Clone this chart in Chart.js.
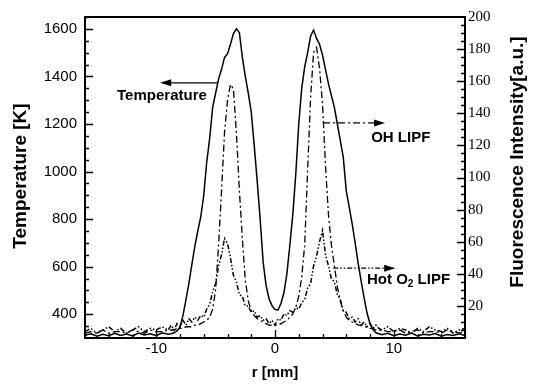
<!DOCTYPE html>
<html>
<head>
<meta charset="utf-8">
<script src="https://cdn.jsdelivr.net/npm/chart.js@4.4.1/dist/chart.umd.min.js"></script>
<style>
    body { margin: 0; background: #fff; }
    canvas { display: block; }
</style>
</head>
<body>
<canvas id="grafica" width="539" height="386"></canvas>
<script>
// radial position r [mm]
const radio = [
    -16, -15.5, -15, -14.5, -14, -13.5, -13, -12.5, -12, -11.5, -11, -10.5, -10, -9.5, -9,
    -8.75, -8.5, -8.25, -8, -7.75, -7.5, -7.25, -7, -6.75, -6.5, -6.25, -6, -5.75, -5.5, -5.25,
    -5, -4.75, -4.5, -4.25, -4, -3.75, -3.5, -3.25, -3, -2.75, -2.5, -2.25, -2, -1.75, -1.5,
    -1.25, -1, -0.75, -0.5, -0.25,
    0,
    0.25, 0.5, 0.75, 1, 1.25, 1.5, 1.75, 2, 2.25, 2.5, 2.75, 3, 3.25, 3.5, 3.75, 4, 4.25, 4.5,
    4.75, 5, 5.25, 5.5, 5.75, 6, 6.25, 6.5, 6.75, 7, 7.25, 7.5, 7.75, 8, 8.25, 8.5, 8.75,
    9, 9.5, 10, 10.5, 11, 11.5, 12, 12.5, 13, 13.5, 14, 14.5, 15, 15.5, 16
];

// temperature [K]
const temperatura = [
    312, 318, 308, 316, 310, 320, 311, 317, 309, 321, 313, 318, 310, 322, 316,
    318, 322, 330, 345, 395, 460, 530, 610, 685, 750, 810, 900, 1040, 1140, 1270,
    1330, 1390, 1430, 1480, 1495, 1535, 1580, 1600, 1585, 1480, 1400, 1330, 1250, 1110, 960,
    800, 620, 520, 465, 435,
    420,
    418, 445, 490, 570, 690, 820, 990, 1200, 1350, 1440, 1500, 1570, 1595, 1560, 1535, 1490, 1430, 1370,
    1320, 1270, 1200, 1130, 1060, 920, 850, 780, 700, 615, 540, 470, 405, 360, 335, 322, 318,
    314, 320, 310, 317, 312, 321, 309, 316, 313, 319, 308, 315, 311, 318, 310
];

// OH LIPF [a.u.]
const ohLipf = [
    3, 4, 3, 5, 3, 4, 4, 3, 5, 4, 3, 5, 4, 4, 5,
    5, 5, 6, 6, 6, 7, 7, 7, 8, 8, 9, 10, 11, 13, 18,
    30, 58, 92, 128, 148, 158, 155, 128, 92, 62, 36, 23, 17, 14, 12,
    11, 10, 9, 8, 8,
    8,
    8, 9, 10, 11, 13, 15, 19, 26, 38, 58, 105, 150, 178, 181, 168, 146, 108, 77,
    58, 45, 32, 23, 17, 13, 11, 10, 9, 8, 8, 7, 7, 6, 6, 5, 5,
    5, 4, 4, 5, 3, 4, 5, 3, 4, 4, 3, 5, 4, 3, 4
];

// hot O2 LIPF [a.u.]
const o2Lipf = [
    4, 6, 3, 5, 7, 4, 6, 3, 5, 7, 4, 6, 5, 7, 5,
    8, 5, 9, 7, 11, 8, 12, 10, 13, 11, 14, 13, 18, 21, 29,
    34, 45, 52, 62, 59, 50, 39, 35, 27, 26, 20, 20, 16, 17, 13,
    14, 11, 12, 9, 11,
    8,
    12, 11, 15, 14, 17, 16, 19, 18, 22, 24, 31, 34, 45, 51, 60, 67, 52, 45,
    37, 35, 27, 24, 17, 16, 12, 13, 10, 12, 8, 10, 7, 9, 6, 8, 6,
    5, 7, 4, 6, 5, 3, 6, 4, 7, 5, 4, 6, 3, 5, 6
];

const ticksRadio = [-10, 0, 10];
const ticksTemp = [400, 600, 800, 1000, 1200, 1400, 1600];
const ticksFluor = [20, 40, 60, 80, 100, 120, 140, 160, 180, 200];

const SANS = "'Liberation Sans', Arial, sans-serif";
const SERIF = "'Liberation Serif', 'Times New Roman', serif";

function puntos(valores) {
    return radio.map((r, i) => ({ x: r, y: valores[i] }));
}

function fijarTicks(lista) {
    return function (scale) {
        scale.ticks = lista.map(v => ({ value: v }));
    };
}

function flecha(ctx, x1, y, x2, dash) {
    ctx.setLineDash(dash);
    ctx.beginPath();
    ctx.moveTo(x1, y);
    ctx.lineTo(x2, y);
    ctx.stroke();
    ctx.setLineDash([]);
    const dir = Math.sign(x2 - x1);
    ctx.beginPath();
    ctx.moveTo(x2 + dir * 2, y);
    ctx.lineTo(x2 - dir * 9, y - 3.5);
    ctx.lineTo(x2 - dir * 9, y + 3.5);
    ctx.closePath();
    ctx.fill();
}

function tituloVertical(ctx, texto, x, y) {
    ctx.save();
    ctx.translate(x, y);
    ctx.rotate(-Math.PI / 2);
    ctx.font = 'bold 19px ' + SANS;
    ctx.textAlign = 'center';
    ctx.textBaseline = 'middle';
    ctx.fillText(texto, 0, 0);
    ctx.restore();
}

// frame, inward ticks, arrows and labels
const marco = {
    id: 'marco',
    afterDraw(chart) {
        const ctx = chart.ctx;
        const a = chart.chartArea;
        const sx = chart.scales.x, sy = chart.scales.y, sf = chart.scales.y2;

        ctx.save();
        ctx.strokeStyle = '#000';
        ctx.fillStyle = '#000';

        ctx.lineWidth = 2;
        ctx.strokeRect(a.left, a.top, a.right - a.left, a.bottom - a.top);

        ctx.lineWidth = 1.3;
        ctx.beginPath();
        for (let v = -16; v <= 16; v += 2) {
            const x = Math.round(sx.getPixelForValue(v)) + 0.5;
            const largo = v % 10 === 0 ? 8 : 4;
            ctx.moveTo(x, a.bottom);
            ctx.lineTo(x, a.bottom - largo);
        }
        for (let v = 350; v <= 1650; v += 50) {
            const y = Math.round(sy.getPixelForValue(v)) + 0.5;
            const largo = v % 200 === 0 ? 8 : 4;
            ctx.moveTo(a.left, y);
            ctx.lineTo(a.left + largo, y);
        }
        for (let v = 5; v < 200; v += 5) {
            const y = Math.round(sf.getPixelForValue(v)) + 0.5;
            const largo = v % 20 === 0 ? 8 : 4;
            ctx.moveTo(a.right, y);
            ctx.lineTo(a.right - largo, y);
        }
        ctx.stroke();

        // arrows
        ctx.lineWidth = 1.3;
        const yT = sy.getPixelForValue(1373);
        flecha(ctx, sx.getPixelForValue(-4.8), yT, sx.getPixelForValue(-9.5), []);
        const yOH = sf.getPixelForValue(134);
        flecha(ctx, sx.getPixelForValue(4.05), yOH, sx.getPixelForValue(9.1), [7, 3, 2, 3]);
        const yO2 = sf.getPixelForValue(43.5);
        flecha(ctx, sx.getPixelForValue(4.9), yO2, sx.getPixelForValue(9.95), [5, 2, 1.5, 2, 1.5, 2]);

        // curve labels
        ctx.font = 'bold 15px ' + SANS;
        ctx.textAlign = 'left';
        ctx.textBaseline = 'middle';
        ctx.fillText('Temperature', sx.getPixelForValue(-13.3), sy.getPixelForValue(1320));
        ctx.fillText('OH LIPF', sx.getPixelForValue(8.1), sf.getPixelForValue(125));

        let x = sx.getPixelForValue(7.75);
        const y = sf.getPixelForValue(36);
        ctx.fillText('Hot O', x, y);
        x += ctx.measureText('Hot O').width;
        ctx.font = 'bold 10px ' + SANS;
        ctx.fillText('2', x, y + 4);
        x += ctx.measureText('2').width;
        ctx.font = 'bold 15px ' + SANS;
        ctx.fillText(' LIPF', x, y);

        // axis titles
        tituloVertical(ctx, 'Temperature [K]', 20.5, 176);
        tituloVertical(ctx, 'Fluorescence Intensity[a.u.]', 517.5, 162);
        ctx.font = 'bold 15px ' + SANS;
        ctx.textAlign = 'center';
        ctx.fillText('r [mm]', (a.left + a.right) / 2, 373);

        ctx.restore();
    }
};

const ctx = document.getElementById('grafica');

const chart = new Chart(ctx, {
    type: 'line',
    data: {
        datasets: [
            {
                label: 'Temperature',
                data: puntos(temperatura),
                yAxisID: 'y',
                borderColor: '#000',
                borderWidth: 1.5,
                pointRadius: 0,
                tension: 0
            },
            {
                label: 'OH LIPF',
                data: puntos(ohLipf),
                yAxisID: 'y2',
                borderColor: '#000',
                borderWidth: 1.3,
                borderDash: [7, 3, 2, 3],
                pointRadius: 0,
                tension: 0
            },
            {
                label: 'Hot O2 LIPF',
                data: puntos(o2Lipf),
                yAxisID: 'y2',
                borderColor: '#000',
                borderWidth: 1.5,
                borderDash: [5, 2, 1.5, 2, 1.5, 2],
                pointRadius: 0,
                tension: 0
            }
        ]
    },
    options: {
        responsive: false,
        animation: false,
        devicePixelRatio: 1,
        layout: { padding: { top: 11, left: 0, right: 0, bottom: 0 } },
        plugins: {
            legend: { display: false },
            tooltip: { enabled: false }
        },
        scales: {
            x: {
                type: 'linear',
                position: 'bottom',
                min: -16,
                max: 16,
                afterBuildTicks: fijarTicks(ticksRadio),
                afterFit: s => { s.height = 48; },
                grid: { display: false, drawTicks: false },
                border: { display: false },
                ticks: {
                    color: '#000',
                    padding: 2,
                    maxRotation: 0,
                    callback: v => String(v),
                    font: { family: SANS, size: 15 }
                }
            },
            y: {
                type: 'linear',
                position: 'left',
                min: 300,
                max: 1650,
                afterBuildTicks: fijarTicks(ticksTemp),
                afterFit: s => { s.width = 85; },
                grid: { display: false, drawTicks: false },
                border: { display: false },
                ticks: {
                    color: '#000',
                    padding: 8,
                    callback: v => String(v),
                    font: { family: SANS, size: 15 }
                }
            },
            y2: {
                type: 'linear',
                position: 'right',
                min: 0,
                max: 200,
                afterBuildTicks: fijarTicks(ticksFluor),
                afterFit: s => { s.width = 74; },
                grid: { display: false, drawTicks: false },
                border: { display: false },
                ticks: {
                    color: '#000',
                    padding: 3,
                    callback: v => String(v),
                    font: { family: SERIF, size: 15 }
                }
            }
        }
    },
    plugins: [marco]
});
</script>
</body>
</html>
